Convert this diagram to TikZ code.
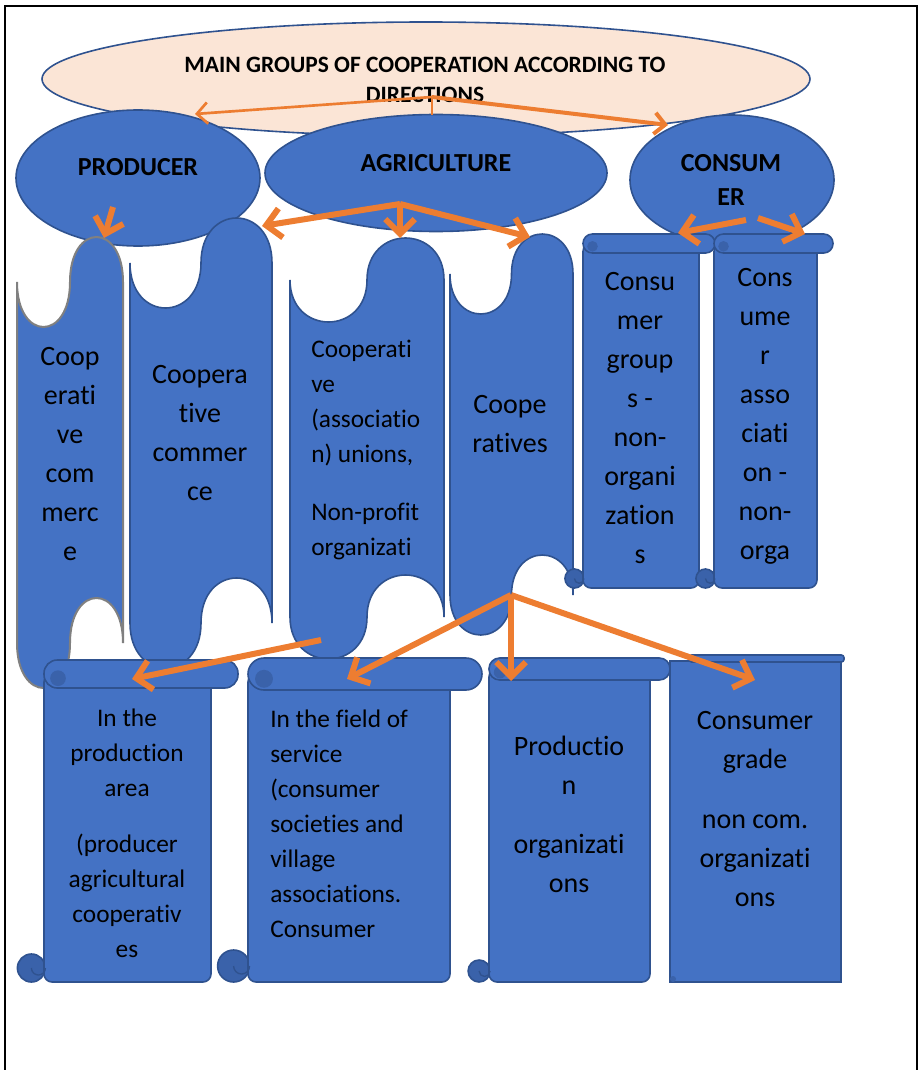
\documentclass[tikz,border=0pt]{standalone}
\usepackage{fontspec}
\setmainfont{Carlito}[Ligatures=CommonOff]
\usetikzlibrary{shapes.geometric,arrows.meta}
\definecolor{scrollblue}{HTML}{4472C4}
\definecolor{edgeblue}{HTML}{2F528F}
\definecolor{curlblue}{HTML}{3A62AA}
\definecolor{peach}{HTML}{FBE5D6}
\definecolor{arroworange}{HTML}{ED7D31}

% wave column: [style] left, width, top line, bottom line, depth of wave
\newcommand{\wavecol}[6][scrollbox]{%
\draw[#1] (#2,#4) .. controls +(0,{4/3*#6}) and +(0,{4/3*#6}) .. ({#2+#3/2},#4)
 .. controls +(0,{-4/3*#6}) and +(0,{-4/3*#6}) .. ({#2+#3},#4) -- ({#2+#3},#5)
 .. controls +(0,{-4/3*#6}) and +(0,{-4/3*#6}) .. ({#2+#3/2},#5)
 .. controls +(0,{4/3*#6}) and +(0,{4/3*#6}) .. (#2,#5) -- cycle;}

% rolled scroll: left, body right, roll right, top, bottom, roll height, corner
\newcommand{\rollscroll}[7]{%
\draw[curl] ({#1-#6*0.45},{#5-#6*0.5}) circle ({#6*0.5});
\draw[scrollbox,rounded corners=6pt] (#1,{#4+#6/2}) rectangle (#2,#5);
\draw[edgeblue,line width=1pt] ({#1-#6*0.45},{#5-#6*0.5}) arc[start angle=180,end angle=0,radius={#6*0.25}];
\draw[scrollbox,rounded corners=#7] (#1,#4) rectangle (#3,{#4+#6});
\fill[curlblue] ({#1+#6*0.5},{#4+#6*0.65}) circle ({#6*0.28});}

\begin{document}
\begin{tikzpicture}[x=0.75pt,y=-0.75pt,
  oval/.style={ellipse,draw=edgeblue,fill=scrollblue,line width=1.2pt,inner sep=0pt},
  scrollbox/.style={draw=edgeblue,fill=scrollblue,line width=1.2pt},
  greybox/.style={draw=gray,fill=scrollblue,line width=1.5pt},
  curl/.style={draw=edgeblue,fill=curlblue,line width=1.2pt},
  headtext/.style={font=\bfseries\fontsize{19.5}{26}\selectfont,align=center,inner sep=0pt},
  bigtext/.style={font=\fontsize{21}{29.25}\selectfont,align=center,inner sep=0pt},
  smalltext/.style={font=\fontsize{19}{26.25}\selectfont,inner sep=0pt},
  link/.style={draw=arroworange,line width=4.5pt,-{Straight Barb[length=11pt,width=22pt]}},
  thinlink/.style={draw=arroworange,line width=2pt,-{Straight Barb[length=8pt,width=16pt]}}]
\useasboundingbox (0,0) rectangle (918,1070);
\draw[line width=1.5pt] (5,1070) -- (5,6) -- (917,6) -- (917,1070);

% top of the tree
\node[oval,fill=peach,minimum width=576pt,minimum height=85.5pt] (main) at (426,79) {};
\node[headtext,font=\bfseries\fontsize{17.6}{23}\selectfont] (maintext) at (425,80)
  {MAIN GROUPS OF COOPERATION ACCORDING TO\\DIRECTIONS};

\node[oval,minimum width=183pt,minimum height=102pt] (producer) at (138,178) {};
\node[oval,minimum width=256.5pt,minimum height=87.75pt] (agro) at (436,173) {};
\node[oval,minimum width=153pt,minimum height=97.5pt] (consumer) at (732,180) {};
\node[headtext] (producertext) at (138,167) {PRODUCER};
\node[headtext] (agrotext) at (436,163) {AGRICULTURE};
\node[headtext] (consumertext) at (731,180) {CONSUM\\ER};

% wavy columns
\wavecol[greybox]{17}{106}{282}{643}{45}
\wavecol{130}{142}{263}{623}{45}
\wavecol{290}{154}{280}{617}{42}
\wavecol{450}{123}{274}{595}{40}
\node[bigtext] (colAtext) at (70,454) {Coop\\erati\\ve\\com\\merc\\e};
\node[bigtext] (colBtext) at (200,433) {Coopera\\tive\\commer\\ce};
\node[smalltext,align=left,anchor=west] (colCtext) at (311,450)
  {Cooperati\\ve\\(associatio\\n) unions,\\[17pt]Non-profit\\organizati};
\node[bigtext] (colDtext) at (510,424) {Coope\\ratives};

% consumer scrolls
\rollscroll{583}{699}{715}{234}{588}{19}{7pt}
\rollscroll{714}{817}{833}{234}{588}{19}{7pt}
\node[bigtext] (groupstext) at (640,418) {Consu\\mer\\group\\s -\\non-\\organi\\zation\\s};
\node[bigtext] (assoctext) at (765,416) {Cons\\ume\\r\\asso\\ciati\\on -\\non-\\orga};

% bottom scrolls
\rollscroll{44}{211}{238}{660}{982}{28}{10pt}
\rollscroll{248}{450}{482}{658}{982}{32}{12pt}
\rollscroll{489}{650}{670}{658}{982}{22}{8pt}
\draw[scrollbox] (670,661) rectangle (841,982);
\draw[scrollbox,rounded corners=2pt] (689,655) rectangle (844,662);
\fill[curlblue] (673,979) circle (3);
\node[smalltext,align=center] (areatext) at (127,833)
  {In the\\production\\area\\[16pt](producer\\agricultural\\cooperativ\\es};
\node[smalltext,align=left,anchor=west] (servicetext) at (270,823.5)
  {In the field of\\service\\(consumer\\societies and\\village\\associations.\\Consumer};
\node[bigtext] (prodorgtext) at (569,814) {Productio\\n\\[15pt]organizati\\ons};
\node[bigtext] (gradetext) at (755,809) {Consumer\\grade\\[16pt]non com.\\organizati\\ons};

% arrows
\coordinate (mainfork) at (432,97);
\coordinate (maindrop) at (432,115);
\coordinate (prodtip) at (195,114);
\coordinate (constip) at (668,125);
\draw[arroworange,line width=1.5pt] (mainfork) -- (maindrop);
\draw[thinlink] (mainfork) -- (prodtip);
\draw[thinlink,line width=3pt] (mainfork) -- (constip);

\coordinate (prodfork) at (113,207);
\coordinate (colAtip) at (104,238);
\draw[link] (prodfork) -- (colAtip);

\coordinate (agrofork) at (400,204);
\coordinate (colBtip) at (262,226);
\coordinate (colCtip) at (400,238);
\coordinate (colDtip) at (530,237);
\draw[link] (agrofork) -- (colBtip);
\draw[link] (agrofork) -- (colCtip);
\draw[link] (agrofork) -- (colDtip);

\coordinate (consleft) at (746,220);
\coordinate (consright) at (758,218);
\coordinate (groupstip) at (678,233);
\coordinate (assoctip) at (805,234);
\draw[link] (consleft) -- (groupstip);
\draw[link] (consright) -- (assoctip);

\coordinate (unionfoot) at (321,640);
\coordinate (areatip) at (132,679);
\draw[link] (unionfoot) -- (areatip);

\coordinate (coopfork) at (511,595);
\coordinate (servicetip) at (347,679);
\coordinate (prodorgtip) at (511,681);
\coordinate (gradetip) at (755,680);
\draw[link] (coopfork) -- (servicetip);
\draw[link] (coopfork) -- (prodorgtip);
\draw[link] (coopfork) -- (gradetip);
\end{tikzpicture}
\end{document}
